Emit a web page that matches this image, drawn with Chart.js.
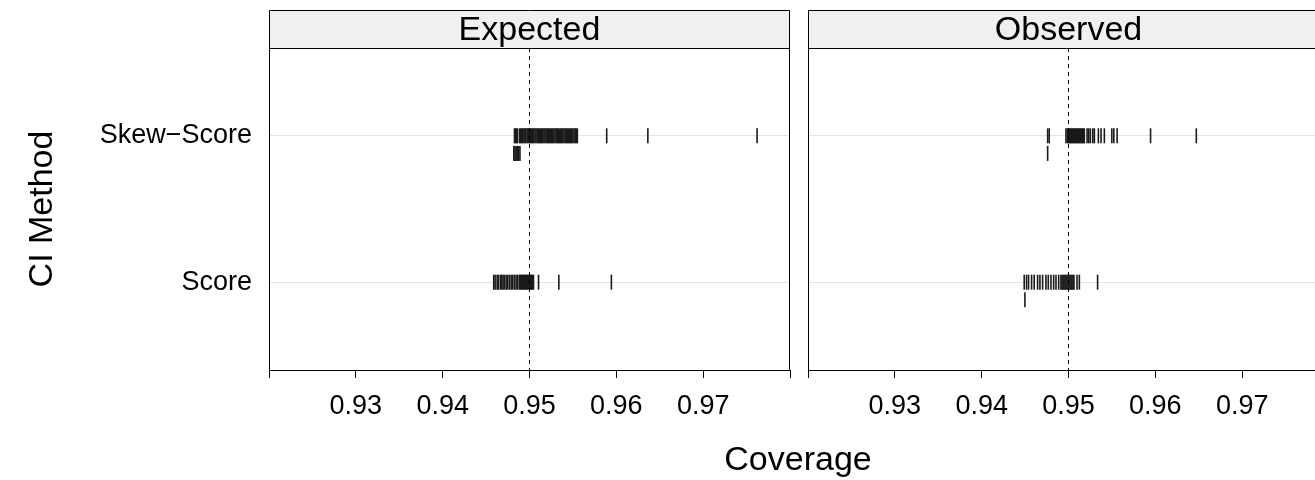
<!DOCTYPE html>
<html>
<head>
<meta charset="utf-8">
<script src="https://cdn.jsdelivr.net/npm/chart.js@4/dist/chart.umd.min.js"></script>
<style>
  html, body { margin: 0; padding: 0; background: #fff; overflow: hidden; }
  #wrap { position: relative; width: 1315px; height: 480px; }
  #wrap canvas { position: absolute; top: 0; }
  #left { left: 0; }
  #right { left: 800px; }
</style>
</head>
<body>
<div id="wrap">
  <canvas id="left" width="1315" height="480"></canvas>
  <canvas id="right" width="515" height="480"></canvas>
</div>
<script>
// Data
const categories = ['Score', 'Skew\u2212Score']   // y = 1, 2
const panels = ['Expected', 'Observed']
const xTickValues = [0.92, 0.93, 0.94, 0.95, 0.96, 0.97, 0.98]
const xTickLabels = ['', '0.93', '0.94', '0.95', '0.96', '0.97', '']
const refValue = 0.95

const expectedScore = [
  0.94588, 0.94604, 0.94627, 0.94642, 0.94665, 0.94680, 0.94696, 0.94711, 0.94731, 0.94749,
  0.94769, 0.94789, 0.94807, 0.94827, 0.94846, 0.94865, 0.94885, 0.94896, 0.94908, 0.94919,
  0.94931, 0.94942, 0.94954, 0.94965, 0.94977, 0.94988, 0.95000, 0.95012, 0.95023, 0.95035,
  0.95046, 0.95104, 0.95338, 0.95943
]
const expectedScoreLower = []
const expectedSkew = [
  0.94827, 0.94838, 0.94850, 0.94861,
  0.94885, 0.94897, 0.94909, 0.94922, 0.94936, 0.94947, 0.94958, 0.94973, 0.94985, 0.94998,
  0.95011, 0.95024, 0.95036, 0.95049, 0.95063, 0.95075, 0.95088, 0.95101, 0.95115, 0.95127,
  0.95139, 0.95152, 0.95166, 0.95178, 0.95191, 0.95204, 0.95216, 0.95230, 0.95243, 0.95255,
  0.95268, 0.95281, 0.95294, 0.95307, 0.95319, 0.95333, 0.95346, 0.95358, 0.95371, 0.95384,
  0.95397, 0.95410, 0.95423, 0.95436, 0.95449, 0.95462, 0.95474, 0.95487, 0.95500, 0.95513,
  0.95526, 0.95538, 0.95551,
  0.95889, 0.96363, 0.97621
]
const expectedSkewLower = [0.94819, 0.94833, 0.94846, 0.94860, 0.94874, 0.94890]

const observedScore = [
  0.94490, 0.94517, 0.94540, 0.94575, 0.94605, 0.94644, 0.94671, 0.94702, 0.94740, 0.94767,
  0.94798, 0.94829, 0.94856, 0.94887, 0.94913, 0.94925, 0.94937, 0.94948, 0.94960, 0.94971,
  0.94983, 0.94994, 0.95006, 0.95017, 0.95029, 0.95040, 0.95052, 0.95063, 0.95098, 0.95125,
  0.95335
]
const observedScoreLower = [0.94498]
const observedSkew = [
  0.94760, 0.94778,
  0.94971, 0.94988, 0.94998, 0.95010, 0.95021, 0.95033, 0.95044, 0.95056, 0.95067, 0.95079,
  0.95090, 0.95102, 0.95113, 0.95125, 0.95136, 0.95148, 0.95159, 0.95171, 0.95182, 0.95214,
  0.95233, 0.95252, 0.95280, 0.95298, 0.95344, 0.95375, 0.95413, 0.95499, 0.95522, 0.95560,
  0.95945, 0.96472
]
const observedSkewLower = [0.94760]

// Layout / style
const FONT = '"Liberation Sans", Arial, Helvetica, sans-serif'
const stripHeight = 38
const lowerShift = 0.12
const markColor = '#1a1a1a'

const rows = (values, y) => values.map(v => ({ x: v, y: y }))

const markSet = (values, y) => ({
  data: rows(values, y),
  pointStyle: 'line',
  rotation: 90,
  radius: 7.5,
  borderWidth: 1.6,
  borderColor: markColor,
  showLine: false
})

// strip, box, reference line
const panelFrame = {
  id: 'panelFrame',
  afterDatasetsDraw(chart, args, opts) {
    const { ctx, chartArea: a, scales } = chart
    const x = scales.x
    ctx.save()
    const rx = Math.round(x.getPixelForValue(refValue)) + 0.5
    ctx.strokeStyle = '#000'
    ctx.lineWidth = 1
    ctx.setLineDash([4, 4])
    ctx.beginPath()
    ctx.moveTo(rx, a.top)
    ctx.lineTo(rx, a.bottom)
    ctx.stroke()
    ctx.setLineDash([])

    const top = a.top - stripHeight
    ctx.fillStyle = '#f0f0f0'
    ctx.fillRect(a.left, top, a.right - a.left, stripHeight)

    const l = Math.round(a.left) + 0.5
    const r = Math.round(a.right) - 0.5
    const t = Math.round(top) + 0.5
    const m = Math.round(a.top) + 0.5
    const b = Math.round(a.bottom) + 0.5
    const end = opts.openRight ? a.right + 2 : r
    ctx.beginPath()
    ctx.moveTo(end, t)
    ctx.lineTo(l, t)
    ctx.lineTo(l, b)
    ctx.lineTo(end, b)
    if (!opts.openRight) ctx.lineTo(r, t)
    ctx.moveTo(l, m)
    ctx.lineTo(end, m)
    ctx.stroke()

    ctx.fillStyle = '#000'
    ctx.font = '34px ' + FONT
    ctx.textAlign = 'center'
    ctx.textBaseline = 'middle'
    ctx.fillText(opts.label, x.getPixelForValue((0.92 + 0.98) / 2), top + stripHeight / 2 + 2)

    if (opts.xTitle) {
      ctx.fillText(opts.xTitle, 798, 461)
    }
    ctx.restore()
  }
}

const makeOptions = (label, xMax, showY, openRight, xTitle) => ({
  responsive: false,
  animation: false,
  events: [],
  layout: { autoPadding: false, padding: { top: 48, left: 0, right: showY ? 525 : 0, bottom: 0 } },
  plugins: {
    legend: { display: false },
    tooltip: { enabled: false },
    panelFrame: { label: label, openRight: openRight, xTitle: xTitle }
  },
  scales: {
    x: {
      type: 'linear',
      min: 0.92,
      max: xMax,
      afterBuildTicks: scale => {
        scale.ticks = xTickValues.filter(v => v <= xMax + 1e-9).map(v => ({ value: v }))
      },
      afterFit: scale => {
        scale.height = 110
        scale.paddingLeft = 0
        scale.paddingRight = 0
      },
      grid: { drawOnChartArea: false, drawTicks: true, tickLength: 8, color: '#000' },
      border: { display: false },
      ticks: {
        autoSkip: false,
        maxRotation: 0,
        padding: 12,
        color: '#000',
        font: { family: FONT, size: 27 },
        callback: (v, i) => xTickLabels[xTickValues.indexOf(Number(v.toFixed(2)))] || ''
      }
    },
    y: {
      type: 'linear',
      min: 0.4,
      max: 2.6,
      afterBuildTicks: scale => {
        scale.ticks = [{ value: 1 }, { value: 2 }]
      },
      afterFit: scale => {
        scale.width = showY ? 269 : 8
        scale.paddingTop = 0
        scale.paddingBottom = 0
      },
      grid: { color: '#e3e3e3', drawTicks: false },
      border: { display: false },
      ticks: {
        display: showY,
        padding: 17,
        color: '#000',
        font: { family: FONT, size: 27 },
        callback: v => categories[v - 1]
      },
      title: {
        display: showY,
        text: 'CI Method',
        color: '#000',
        font: { family: FONT, size: 34 },
        padding: { top: 22, bottom: 0 }
      }
    }
  }
})

// Expected panel
new Chart(document.getElementById('left'), {
  type: 'scatter',
  data: {
    datasets: [
      markSet(expectedScore, 1),
      markSet(expectedScoreLower, 1 - lowerShift),
      markSet(expectedSkew, 2),
      markSet(expectedSkewLower, 2 - lowerShift)
    ]
  },
  options: makeOptions(panels[0], 0.98, true, false, 'Coverage'),
  plugins: [panelFrame]
})

// Observed panel (runs past the right edge of the window)
new Chart(document.getElementById('right'), {
  type: 'scatter',
  data: {
    datasets: [
      markSet(observedScore, 1),
      markSet(observedScoreLower, 1 - lowerShift),
      markSet(observedSkew, 2),
      markSet(observedSkewLower, 2 - lowerShift)
    ]
  },
  options: makeOptions(panels[1], 0.92 + 0.06 * 507 / 521, false, true, null),
  plugins: [panelFrame]
})
</script>
</body>
</html>
